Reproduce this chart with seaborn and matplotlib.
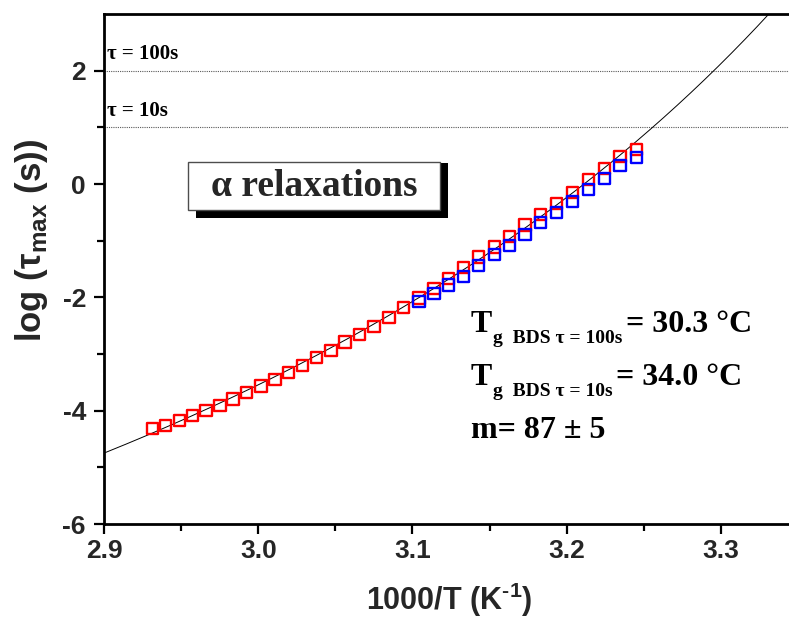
import numpy as np
import pandas as pd
import seaborn as sns
import matplotlib.pyplot as plt
from matplotlib.patches import Rectangle

# Relaxation map of the alpha process: log(tau_max) vs 1000/T
x_run1 = [2.9313, 2.9398, 2.9488, 2.9573, 2.9661, 2.9752, 2.9837, 2.9925,
          3.0018, 3.0109, 3.0198, 3.0289, 3.0379, 3.0472, 3.0563, 3.0656,
          3.0751, 3.0848, 3.0944, 3.1043, 3.1140, 3.1235, 3.1333, 3.1430,
          3.1531, 3.1628, 3.1730, 3.1829, 3.1936, 3.2040, 3.2141, 3.2243,
          3.2346, 3.2455]
log_tau_run1 = [-4.321, -4.261, -4.173, -4.085, -3.991, -3.903, -3.792, -3.679,
                -3.563, -3.450, -3.322, -3.198, -3.063, -2.934, -2.788, -2.652,
                -2.511, -2.358, -2.181, -2.012, -1.841, -1.665, -1.477, -1.286,
                -1.114, -0.925, -0.726, -0.537, -0.349, -0.150, 0.074, 0.268,
                0.485, 0.603]

x_run2 = [3.1043, 3.1140, 3.1235, 3.1333, 3.1430, 3.1531, 3.1628, 3.1730,
          3.1829, 3.1936, 3.2040, 3.2141, 3.2243, 3.2346, 3.2455]
log_tau_run2 = [-2.070, -1.935, -1.783, -1.630, -1.441, -1.248, -1.084, -0.890,
                -0.684, -0.497, -0.308, -0.102, 0.092, 0.326, 0.462]

# VFT fit: log tau = log_tau0 + B / (T - T0)
vft_log_tau0 = -13.50
vft_B = 831.6
vft_T0 = 249.8

# reference relaxation times (log10 of seconds)
tau_levels = [2, 1]
tau_labels = ["τ = 100s", "τ = 10s"]

x_ticks = [2.9, 3.0, 3.1, 3.2, 3.3]
y_ticks = [-6, -4, -2, 0, 2]

sns.set_theme(style="white")
plt.rcParams['font.family'] = ['Liberation Sans', 'DejaVu Sans']
plt.rcParams['axes.unicode_minus'] = False
plt.rcParams['mathtext.fontset'] = 'custom'
plt.rcParams['mathtext.sf'] = 'Liberation Sans:bold'
plt.rcParams['mathtext.rm'] = 'Liberation Serif:bold'
plt.rcParams['mathtext.bf'] = 'Liberation Sans:bold'

W, H = 789, 625
fig = plt.figure(figsize=(W / 100, H / 100), dpi=100)
fig.patch.set_facecolor('white')
ax = fig.add_axes([104 / W, 1 - 524 / H, 694 / W, 510 / H])
ax.set_facecolor('white')

# fitted curve
x_fit = np.linspace(2.9, 3.34, 400)
y_fit = vft_log_tau0 + vft_B / (1000.0 / x_fit - vft_T0)
fit_df = pd.DataFrame({"x": x_fit, "y": y_fit})
sns.lineplot(data=fit_df, x="x", y="y", ax=ax, color="black", lw=0.7,
             sort=False, zorder=2)

for lvl in tau_levels:
    ax.axhline(lvl, color="0.35", lw=0.8, ls=(0, (1, 1)), zorder=1)

df1 = pd.DataFrame({"x": x_run1, "y": log_tau_run1})
df2 = pd.DataFrame({"x": x_run2, "y": log_tau_run2})
sns.scatterplot(data=df1, x="x", y="y", ax=ax, marker="s", s=66,
                facecolors="none", edgecolor="#ff0000", linewidth=1.7, zorder=3)
sns.scatterplot(data=df2, x="x", y="y", ax=ax, marker="s", s=66,
                facecolors="none", edgecolor="#0000ff", linewidth=1.7, zorder=4)

ax.set_xlim(2.9, 3.35)
ax.set_ylim(-6, 3)
ax.set_xticks(x_ticks)
ax.set_yticks(y_ticks)
ax.set_xticks([2.95, 3.05, 3.15, 3.25, 3.35], minor=True)
ax.set_yticks([-5, -3, -1, 1], minor=True)
ax.set_xticklabels([f"{v:.1f}" for v in x_ticks])
ax.set_yticklabels([f"{v:d}" for v in y_ticks])

for lab in ax.get_xticklabels() + ax.get_yticklabels():
    lab.set_family(['Liberation Sans', 'DejaVu Sans'])
    lab.set_weight('bold')
    lab.set_size(19)

ax.tick_params(axis='both', which='major', direction='out', length=7,
               width=1.6, color='black', bottom=True, left=True, top=False,
               right=False)
ax.tick_params(axis='both', which='minor', direction='out', length=5,
               width=1.6, color='black', bottom=True, left=True, top=False,
               right=False)
ax.tick_params(axis='x', which='major', pad=4)
ax.tick_params(axis='y', which='major', pad=6)

for side in ['left', 'bottom', 'top', 'right']:
    ax.spines[side].set_visible(True)
    ax.spines[side].set_color('black')
    ax.spines[side].set_linewidth(2.0)

ax.set_xlabel("1000/T (K$^{\\mathsf{‐1}}$)", fontsize=22, fontweight='bold')
ax.set_ylabel("log (τ$_{\\mathsf{max}}$ (s))", fontsize=25, fontweight='bold')
ax.xaxis.set_label_coords(0.497, -0.112)
ax.yaxis.set_label_coords(-0.078, 0.555)


def put(text, x_px, y_px, size, **kw):
    fig.text(x_px / W, 1 - y_px / H, text, fontsize=size,
             family='Liberation Serif', fontweight='bold', va='baseline',
             ha='left', color='black', **kw)


# reference-time labels above the dotted lines
put(tau_labels[0], 107, 59, 15)
put(tau_labels[1], 107, 116, 15)

# boxed title with drop shadow
fig.patches.append(Rectangle((196 / W, 1 - 218 / H), 252 / W, 55 / H,
                             transform=fig.transFigure, facecolor='black',
                             edgecolor='none', zorder=5))
fig.patches.append(Rectangle((188 / W, 1 - 210 / H), 252 / W, 48 / H,
                             transform=fig.transFigure, facecolor='white',
                             edgecolor='0.3', lw=1.0, zorder=6))
fig.text(314 / W, 1 - 186 / H, "α relaxations", fontsize=27,
         family='Liberation Serif', fontweight='bold', ha='center',
         va='center', zorder=7)

# glass transition results
put("T", 471, 332, 23)
put("g  BDS τ = 100s", 493, 343, 14)
put("= 30.3 °C", 626, 332, 23)
put("T", 471, 385, 23)
put("g  BDS τ = 10s", 493, 396, 14)
put("= 34.0 °C", 616, 385, 23)
put("m= 87 ± 5", 471, 438, 23)

fig.savefig("out.png", dpi=100)
